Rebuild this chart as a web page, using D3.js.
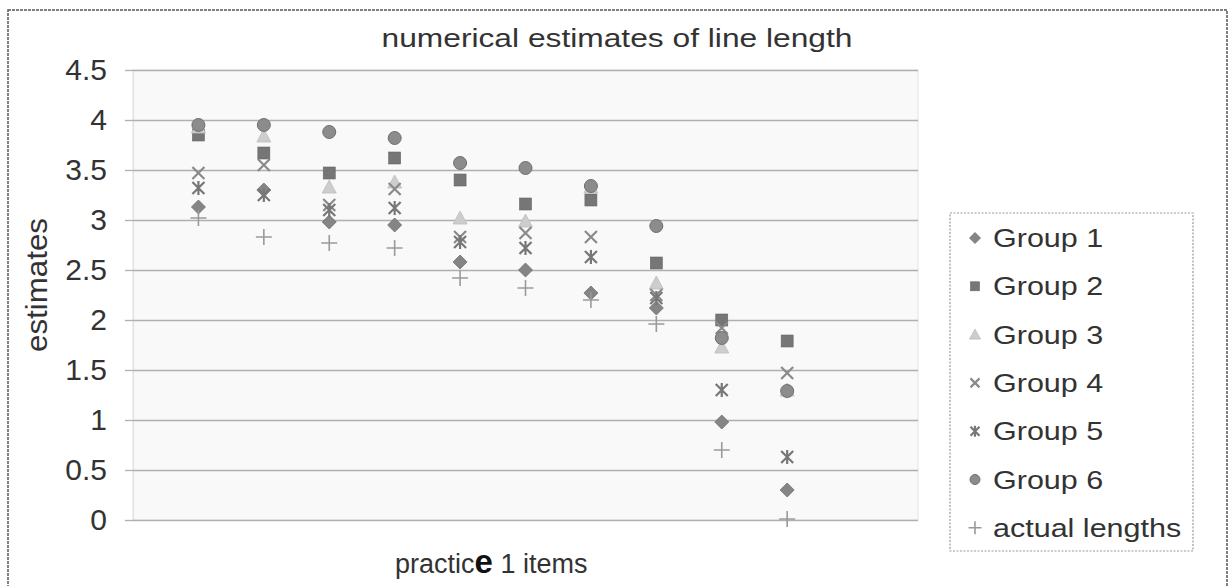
<!DOCTYPE html>
<html>
<head>
<meta charset="utf-8">
<script src="https://cdn.jsdelivr.net/npm/d3@7"></script>
<style>
  html, body { margin: 0; padding: 0; background: #fff; }
  svg { display: block; font-family: "Liberation Sans", Arial, sans-serif; }
</style>
</head>
<body>
<svg id="chart" width="1230" height="586"></svg>
<script>
// ---- data ----
const items = [1, 2, 3, 4, 5, 6, 7, 8, 9, 10];
const group1 = [3.13, 3.30, 2.98, 2.95, 2.58, 2.50, 2.27, 2.12, 0.98, 0.30];
const group2 = [3.85, 3.67, 3.47, 3.62, 3.40, 3.16, 3.20, 2.57, 2.00, 1.79];
const group3 = [3.93, 3.84, 3.33, 3.38, 3.02, 2.99, 3.33, 2.37, 1.73, 1.30];
const group4 = [3.47, 3.55, 3.15, 3.31, 2.83, 2.87, 2.83, 2.25, 1.92, 1.47];
const group5 = [3.32, 3.25, 3.10, 3.12, 2.78, 2.72, 2.63, 2.22, 1.30, 0.63];
const group6 = [3.95, 3.95, 3.88, 3.82, 3.57, 3.52, 3.34, 2.94, 1.82, 1.29];
const actualLengths = [3.02, 2.83, 2.77, 2.72, 2.42, 2.32, 2.20, 1.96, 0.70, 0.01];
const seriesNames = ["Group 1", "Group 2", "Group 3", "Group 4", "Group 5", "Group 6", "actual lengths"];
const yTicks = [0, 0.5, 1, 1.5, 2, 2.5, 3, 3.5, 4, 4.5];
const titleText = "numerical estimates of line length";
const yLabel = "estimates";

const seriesValues = [group1, group2, group3, group4, group5, group6, actualLengths];
const markerTypes = ["diamond", "square", "triangle", "x", "star", "circle", "plus"];
const markerColors = ["#858585", "#767676", "#cdcdcd", "#8a8a8a", "#777777", "#8c8c8c", "#9a9a9a"];

// ---- layout ----
const svg = d3.select("#chart");
const plot = { left: 133, right: 918, top: 70, bottom: 520 };
const x = d3.scaleLinear().domain([0, 12]).range([plot.left, plot.right]);
const y = d3.scaleLinear().domain([0, 4.5]).range([plot.bottom, plot.top]);

// outer chart border
svg.append("rect")
  .attr("x", 8).attr("y", 10).attr("width", 1219).attr("height", 600)
  .attr("fill", "none").attr("stroke", "#555").attr("stroke-width", 1.5)
  .attr("stroke-dasharray", "3,1");

// plot background
svg.append("rect")
  .attr("x", plot.left).attr("y", plot.top)
  .attr("width", plot.right - plot.left).attr("height", plot.bottom - plot.top)
  .attr("fill", "#f9f9f9").attr("stroke", "#e4e4e4").attr("stroke-width", 1);

// y axis with ticks + gridlines
const yAxis = svg.append("g")
  .attr("transform", `translate(${plot.left},0)`)
  .call(d3.axisLeft(y).tickValues(yTicks).tickSize(8).tickPadding(18)
        .tickFormat(d => String(d)));
yAxis.select(".domain").attr("stroke", "#e0e0e0");
yAxis.selectAll(".tick line").attr("stroke", "#b0b0b0").attr("stroke-width", 1.3);
yAxis.selectAll(".tick text")
  .attr("font-size", 30).attr("fill", "#333")
  .attr("font-family", "'Liberation Sans', Arial, sans-serif");

const grid = svg.append("g")
  .attr("transform", `translate(${plot.left},0)`)
  .call(d3.axisLeft(y).tickValues(yTicks).tickSize(-(plot.right - plot.left)).tickFormat(""));
grid.select(".domain").remove();
grid.selectAll(".tick line").attr("stroke", "#b0b0b0").attr("stroke-width", 1.3);

// marker drawing
function drawMarker(g, type, color, s) {
  const h = s / 2;
  switch (type) {
    case "diamond":
      g.append("path").attr("d", `M0,${-h - 1}L${h + 1},0L0,${h + 1}L${-h - 1},0Z`)
        .attr("fill", color).attr("stroke", "#6e6e6e").attr("stroke-width", 0.8);
      break;
    case "square":
      g.append("rect").attr("x", -h).attr("y", -h).attr("width", s).attr("height", s)
        .attr("fill", color).attr("stroke", "#666").attr("stroke-width", 0.6);
      break;
    case "triangle":
      g.append("path").attr("d", `M0,${-h - 1}L${h + 1},${h}L${-h - 1},${h}Z`)
        .attr("fill", color).attr("stroke", "#bdbdbd").attr("stroke-width", 0.8);
      break;
    case "x":
      g.append("path").attr("d", `M${-h},${-h}L${h},${h}M${-h},${h}L${h},${-h}`)
        .attr("stroke", color).attr("stroke-width", 2.2).attr("fill", "none");
      break;
    case "star":
      g.append("path").attr("d", `M${-h},${-h}L${h},${h}M${-h},${h}L${h},${-h}M0,${-h - 1}L0,${h + 1}`)
        .attr("stroke", color).attr("stroke-width", 2.2).attr("fill", "none");
      break;
    case "circle":
      g.append("circle").attr("r", h + 0.5)
        .attr("fill", color).attr("stroke", "#6f6f6f").attr("stroke-width", 1);
      break;
    case "plus":
      g.append("path").attr("d", `M${-h - 2},0L${h + 2},0M0,${-h - 2}L0,${h + 2}`)
        .attr("stroke", color).attr("stroke-width", 1.6).attr("fill", "none");
      break;
  }
}

// series (drawn in order so later series sit on top)
seriesValues.forEach((vals, si) => {
  const sg = svg.append("g").attr("class", "series-" + si);
  sg.selectAll("g.pt")
    .data(items.map((it, i) => ({ x: it, y: vals[i] })))
    .join("g")
    .attr("class", "pt")
    .attr("transform", d => `translate(${x(d.x)},${y(d.y)})`)
    .each(function () { drawMarker(d3.select(this), markerTypes[si], markerColors[si], 12); });
});

// title
svg.append("text")
  .attr("x", 617).attr("y", 47).attr("text-anchor", "middle")
  .attr("font-size", 26).attr("fill", "#333")
  .attr("textLength", 471).attr("lengthAdjust", "spacingAndGlyphs")
  .text(titleText);

// y label
svg.append("text")
  .attr("transform", "translate(47,285) rotate(-90)")
  .attr("text-anchor", "middle")
  .attr("font-size", 29).attr("fill", "#333")
  .attr("textLength", 134).attr("lengthAdjust", "spacingAndGlyphs")
  .text(yLabel);

// x label with the enlarged "e" seen in the scan
const xl = svg.append("text")
  .attr("x", 395).attr("y", 573)
  .attr("font-size", 27).attr("fill", "#333");
xl.append("tspan").text("practic");
xl.append("tspan").attr("font-size", 33).attr("font-weight", "bold").attr("fill", "#111").text("e");
xl.append("tspan").text(" 1 items");

// legend
const lg = svg.append("g");
lg.append("rect")
  .attr("x", 950).attr("y", 213).attr("width", 243).attr("height", 338)
  .attr("fill", "#fff").attr("stroke", "#999").attr("stroke-width", 1.2)
  .attr("stroke-dasharray", "2,1.5");
const legendStep = 48.3;
seriesNames.forEach((name, i) => {
  const cy = 238 + i * legendStep;
  const mg = lg.append("g").attr("transform", `translate(975,${cy})`);
  drawMarker(mg, markerTypes[i], markerColors[i], 9);
  const t = lg.append("text")
    .attr("x", 993).attr("y", cy + 9)
    .attr("font-size", 25).attr("fill", "#333")
    .text(name);
  const w = t.node().getComputedTextLength();
  t.attr("textLength", w * 1.22).attr("lengthAdjust", "spacingAndGlyphs");
});
</script>
</body>
</html>
